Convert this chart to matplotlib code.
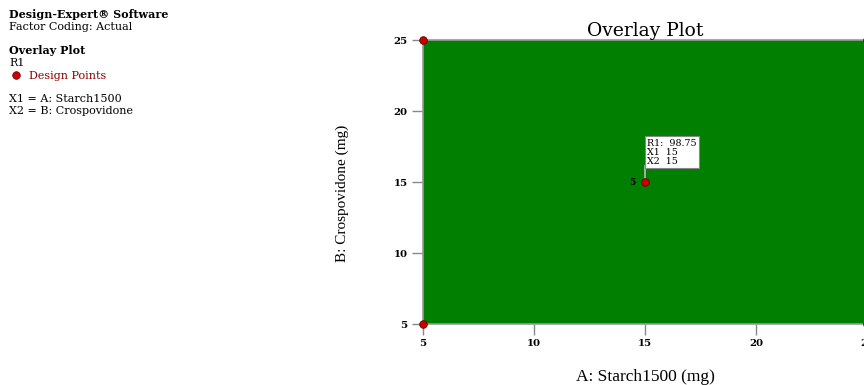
import matplotlib
matplotlib.use("Agg")
import matplotlib.pyplot as plt
from matplotlib.lines import Line2D

# Data
x_pts = [5, 5, 25, 25, 15]
y_pts = [5, 25, 5, 25, 15]
center_label = "5"
x_ticks = [5, 10, 15, 20, 25]
y_ticks = [5, 10, 15, 20, 25]
tip_lines = ["R1:  98.75", "X1  15", "X2  15"]

SERIF_W = ['DejaVu Serif']
SERIF_T = ['Liberation Serif', 'DejaVu Serif']
plt.rcParams['font.family'] = SERIF_W

fig = plt.figure(figsize=(8.64, 3.85), dpi=100)
ax = fig.add_axes([0.4896, 0.1584, 0.5139, 0.7377])
ax.set_xlim(5, 25)
ax.set_ylim(5, 25)
ax.set_facecolor('#007f00')
for s in ax.spines.values():
    s.set_color('#999999')
    s.set_linewidth(1.2)
ax.set_xticks(x_ticks)
ax.set_yticks(y_ticks)
ax.tick_params(direction='out', length=8, color='#888888', width=1,
               labelsize=7.3, pad=3)
for lab in ax.get_xticklabels() + ax.get_yticklabels():
    lab.set_fontweight('bold')
ax.scatter(x_pts, y_pts, s=30, color='#cc0000', edgecolor='#660000',
           linewidth=0.6, zorder=5, clip_on=False)
ax.text(14.55, 15, center_label, fontsize=6.5, ha='right', va='center',
        color='black', fontweight='bold')
# flag line + tooltip box
ax.plot([15, 15], [15, 16.1], color='#bbbbbb', lw=1.2, zorder=4)
ax.text(15.1, 16.15, "\n".join(tip_lines), fontsize=6.8, ha='left', va='bottom',
        linespacing=1.0,
        bbox=dict(boxstyle='square,pad=0.25', facecolor='white', edgecolor='#888888', lw=0.8),
        zorder=6)

ax.set_title("Overlay Plot", fontsize=13.5, pad=1)
ax.set_xlabel("A: Starch1500 (mg)", fontsize=12.5, family=SERIF_T)
ax.xaxis.set_label_coords(0.5, -0.16)
ax.set_ylabel("B: Crospovidone (mg)", fontsize=11, family=SERIF_T)
ax.yaxis.set_label_coords(-0.166, 0.461)

# left info text
fs = 8
fig.text(9/864, 1 - 15/385, "Design-Expert\u00ae Software", fontsize=fs, fontweight='bold', va='center')
fig.text(9/864, 1 - 27/385, "Factor Coding: Actual", fontsize=fs, va='center')
fig.text(9/864, 1 - 51/385, "Overlay Plot", fontsize=fs, fontweight='bold', va='center')
fig.text(9/864, 1 - 63/385, "R1", fontsize=fs, va='center')
fig.add_artist(Line2D([16/864], [1 - 75/385], marker='o', markersize=5.5,
                      color='#cc0000', markeredgecolor='#660000',
                      markeredgewidth=0.5, transform=fig.transFigure))
fig.text(29/864, 1 - 76/385, "Design Points", fontsize=fs, color='#8b0000', va='center')
fig.text(9/864, 1 - 99/385, "X1 = A: Starch1500", fontsize=fs, va='center')
fig.text(9/864, 1 - 111/385, "X2 = B: Crospovidone", fontsize=fs, va='center')

fig.savefig("out.png", dpi=100)
